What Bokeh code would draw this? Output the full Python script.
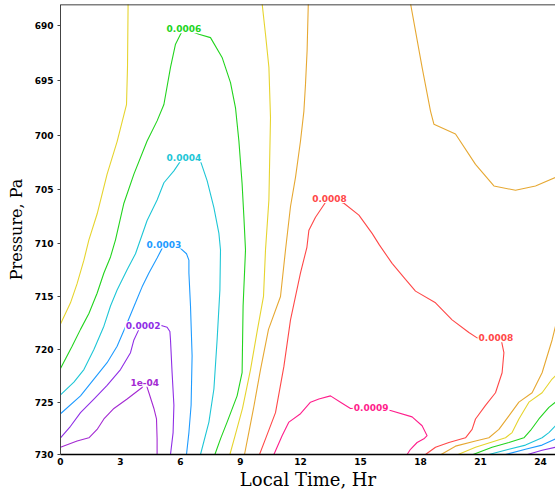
from bokeh.plotting import figure
from bokeh.models import Range1d, FixedTicker, PrintfTickFormatter, Span, ColumnDataSource
from bokeh.embed import file_html
from bokeh.resources import INLINE
from bokeh.core.properties import value

# ---------------- data (Local time [hr], Pressure [Pa]) ----------------
x_ticks = [0, 3, 6, 9, 12, 15, 18, 21, 24]
y_ticks = [690, 695, 700, 705, 710, 715, 720, 725, 730]

# level 1 (1e-04)
v1_x = [0.0, 0.83, 1.42, 1.83, 2.17, 2.67, 3.33, 4.08, 4.21, 4.3, 4.42, 4.67, 4.8, 4.83, 4.83]
v1_p = [729.3, 728.7, 728.4, 727.6, 726.6, 725.6, 724.7, 723.6, 723.1, 723.4, 724.1, 725.6, 726.6, 728.5, 730.0]

# level 2 (0.0002)
p2a_x = [0.0, 0.5, 1.0, 1.67, 2.33, 3.0, 3.5, 3.67, 3.92, 4.13, 4.6, 5.08, 5.33, 5.47, 5.5, 5.58, 5.67, 5.63, 5.5]
p2a_p = [728.4, 727.3, 726.0, 724.7, 723.4, 721.9, 720.3, 719.1, 718.1, 717.75, 717.7, 717.75, 717.9, 718.3, 719.1, 722.2, 725.3, 727.9, 730.0]
p2b_x = [23.35, 24.08, 24.75]
p2b_p = [730.0, 729.6, 729.3]

# level 3 (0.0003)
b3a_x = [0.0, 1.0, 1.67, 2.33, 2.83, 3.33, 3.75, 4.08, 4.42, 4.83, 5.08, 5.17, 5.6, 6.0, 6.3, 6.42, 6.42, 6.5, 6.58, 6.53, 6.42, 6.3]
b3a_p = [726.1, 724.4, 722.8, 721.25, 719.7, 717.5, 715.6, 714.1, 712.8, 711.4, 710.5, 710.1, 710.1, 710.5, 711.0, 711.6, 712.8, 715.9, 720.6, 725.3, 727.9, 730.0]
b3b_x = [22.25, 23.25, 24.08, 24.75]
b3b_p = [730.0, 729.5, 729.1, 728.5]

# level 4 (0.0004)
c4a_x = [0.0, 0.67, 1.17, 1.67, 2.17, 2.5, 2.83, 3.33, 3.75, 4.33, 4.83, 5.17, 5.67, 6.0, 6.17, 7.0, 7.33, 7.67, 7.92, 8.0, 7.97, 7.83, 7.67, 7.42, 7.0]
c4a_p = [724.3, 723.1, 721.9, 720.0, 717.8, 715.9, 714.4, 712.5, 711.0, 707.9, 706.0, 704.4, 703.3, 702.4, 702.1, 702.4, 704.2, 706.7, 709.1, 710.65, 714.4, 719.1, 723.75, 726.9, 730.0]
c4b_x = [21.42, 22.42, 23.25, 24.08, 24.42, 24.75]
c4b_p = [730.0, 729.5, 729.1, 728.4, 727.9, 727.25]

# level 5 (labelled 0.0006)
g5a_x = [0.0, 0.58, 1.0, 1.42, 1.83, 2.17, 2.5, 2.75, 3.17, 3.67, 4.33, 4.83, 5.17, 5.5, 5.75, 6.0, 6.17, 6.92, 7.5, 8.08, 8.5, 8.75, 8.92, 9.08, 9.17, 9.25, 9.13, 9.08, 8.83, 8.33, 8.0, 7.72]
g5a_p = [721.8, 719.7, 718.1, 716.6, 714.7, 712.8, 711.3, 709.7, 706.3, 703.6, 700.55, 698.7, 697.2, 693.8, 691.7, 690.8, 690.3, 690.8, 691.1, 692.9, 695.2, 697.5, 700.55, 704.5, 707.6, 710.65, 715.9, 722.2, 724.4, 726.9, 728.5, 730.0]
g5b_x = [20.63, 21.58, 22.42, 23.17, 23.5, 23.92, 24.42, 24.75]
g5b_p = [730.0, 729.3, 728.85, 728.4, 727.7, 726.6, 725.5, 725.0]

# level 6 (yellow)
y6a_x = [3.38, 3.35, 3.3, 2.83, 2.33, 1.83, 1.42, 1.17, 0.83, 0.5, 0.0]
y6a_p = [688.0, 693.8, 697.2, 700.6, 703.6, 707.3, 709.7, 711.6, 713.8, 715.6, 717.6]
y6b_x = [10.08, 10.25, 10.42, 10.5, 10.42, 10.25, 10.15, 9.85, 9.5, 9.1, 8.75, 8.47]
y6b_p = [688.0, 690.8, 693.8, 698.4, 706.0, 710.65, 715.0, 718.1, 721.9, 725.6, 728.05, 730.0]
y6c_x = [19.88, 20.75, 21.42, 22.25, 22.58, 22.92, 23.42, 24.08, 24.58, 24.75]
y6c_p = [730.0, 729.3, 728.9, 728.4, 727.9, 726.6, 725.0, 724.1, 722.8, 722.5]

# level 7 (orange)
o7a_x = [12.39, 12.33, 12.25, 12.17, 12.0, 11.75, 11.5, 11.25, 11.0, 10.4, 10.0, 9.65, 9.4, 9.2]
o7a_p = [688.0, 692.3, 695.35, 697.8, 700.55, 703.9, 706.6, 710.65, 715.0, 718.1, 721.9, 725.6, 728.05, 730.0]
o7b_x = [17.5, 18.08, 18.5, 18.67, 19.75, 20.75, 21.67, 22.75, 23.75, 24.75]
o7b_p = [688.0, 693.8, 697.8, 699.0, 699.9, 702.7, 704.7, 705.1, 704.7, 703.9]
o7c_x = [19.03, 19.75, 20.75, 21.42, 21.92, 22.42, 22.92, 23.58, 24.08, 24.58, 24.75]
o7c_p = [730.0, 729.2, 728.7, 728.4, 727.6, 726.3, 725.0, 724.1, 722.2, 719.1, 717.8]

# level 8 (0.0008)
r8a_x = [9.95, 10.25, 10.75, 11.17, 11.5, 12.0, 12.32, 12.42, 12.75, 13.22, 13.45, 14.17, 14.92, 15.58, 15.95, 16.58, 17.25, 17.75, 18.75, 19.58, 20.42, 20.83, 21.77, 22.05, 22.17, 22.08, 21.75, 21.25, 20.75, 20.58, 20.25, 19.42, 18.75, 18.25]
r8a_p = [730.0, 728.5, 726.0, 721.6, 717.2, 712.8, 710.4, 708.8, 707.6, 706.3, 705.85, 706.3, 707.4, 709.1, 710.2, 711.9, 713.4, 714.5, 715.6, 717.2, 718.4, 718.9, 718.9, 719.2, 720.3, 722.2, 724.1, 725.3, 726.6, 727.6, 728.4, 728.85, 729.3, 730.0]

# level 9 (0.0009)
k9a_x = [10.67, 11.08, 11.42, 12.0, 12.5, 12.92, 13.5, 14.0, 14.5, 15.53, 16.5, 17.58, 18.08, 18.33, 18.17, 17.83, 17.5, 17.33]
k9a_p = [730.0, 728.2, 726.9, 726.1, 725.0, 724.7, 724.4, 725.0, 725.6, 725.5, 725.8, 726.4, 727.25, 728.2, 728.5, 728.85, 729.5, 730.0]

# contour labels
label_text = ["0.0006", "0.0004", "0.0003", "0.0002", "1e-04", "0.0008", "0.0008", "0.0009"]
label_x = [6.17, 6.17, 5.17, 4.13, 4.21, 13.45, 21.77, 15.53]
label_p = [690.3, 702.1, 710.1, 717.75, 723.1, 705.85, 718.9, 725.5]
label_level = [5, 4, 3, 2, 1, 8, 8, 9]

x_title = "Local Time, Hr"
y_title = "Pressure, Pa"

# ---------------- styling ----------------
level_colors = {1: "#a42ad2", 2: "#8f2ee6", 3: "#1e9bff", 4: "#1ec6d6", 5: "#22d41e",
                6: "#e6d42e", 7: "#e6a832", 8: "#ff4848", 9: "#ff1e8c"}

segments = [
    (1, v1_x, v1_p), (2, p2a_x, p2a_p), (2, p2b_x, p2b_p),
    (3, b3a_x, b3a_p), (3, b3b_x, b3b_p), (4, c4a_x, c4a_p), (4, c4b_x, c4b_p),
    (5, g5a_x, g5a_p), (5, g5b_x, g5b_p),
    (6, y6a_x, y6a_p), (6, y6b_x, y6b_p), (6, y6c_x, y6c_p),
    (7, o7a_x, o7a_p), (7, o7b_x, o7b_p), (7, o7c_x, o7c_p),
    (8, r8a_x, r8a_p), (9, k9a_x, k9a_p),
]

Y_TOP = 688.1
p = figure(width=555, height=492, title=None,
           x_range=Range1d(0, 24.75), y_range=Range1d(730, Y_TOP),
           y_axis_type="log", output_backend="svg", toolbar_location=None,
           min_border_left=60, min_border_right=0, min_border_top=4, min_border_bottom=37)
p.outline_line_color = None
p.grid.visible = False
p.background_fill_color = "white"
p.border_fill_color = "white"

for lev, xs, ps in segments:
    p.line(xs, ps, line_color=level_colors[lev], line_width=1.1)

src = ColumnDataSource(dict(x=label_x, y=label_p, text=label_text,
                            color=[level_colors[l] for l in label_level]))
p.text(x="x", y="y", text="text", source=src, text_color="color",
       text_font=value("DejaVu Sans"), text_font_style="bold",
       text_font_size=value("9px"), text_align="center", text_baseline="middle",
       background_fill_color="white", padding=1)

p.add_layout(Span(location=Y_TOP, dimension="width", line_color="black", line_width=1.5))

xa = p.xaxis[0]
xa.ticker = FixedTicker(ticks=x_ticks)
xa.formatter = PrintfTickFormatter(format="%d")
xa.major_tick_out = 0
xa.major_tick_in = 0
xa.minor_tick_out = 0
xa.minor_tick_in = 0
xa.axis_line_color = "black"
xa.axis_line_width = 1.5
xa.major_label_text_font = "DejaVu Sans"
xa.major_label_text_font_style = "bold"
xa.major_label_text_font_size = "9px"
xa.major_label_text_color = "black"
xa.major_label_standoff = 3
xa.axis_label = x_title
xa.axis_label_text_font = "DejaVu Serif"
xa.axis_label_text_font_style = "normal"
xa.axis_label_text_font_size = "18px"
xa.axis_label_text_color = "black"
xa.axis_label_standoff = 1

ya = p.yaxis[0]
ya.ticker = FixedTicker(ticks=y_ticks)
ya.formatter = PrintfTickFormatter(format="%d")
ya.major_tick_out = 3
ya.major_tick_in = 0
ya.minor_tick_out = 0
ya.minor_tick_in = 0
ya.axis_line_color = "#444444"
ya.major_tick_line_color = "#444444"
ya.major_label_text_font = "DejaVu Sans"
ya.major_label_text_font_style = "bold"
ya.major_label_text_font_size = "9px"
ya.major_label_text_color = "black"
ya.major_label_standoff = 4
ya.axis_label = y_title
ya.axis_label_text_font = "DejaVu Serif"
ya.axis_label_text_font_style = "normal"
ya.axis_label_text_font_size = "16px"
ya.axis_label_text_color = "black"
ya.axis_label_standoff = 6

open("out.html", "w").write(file_html(p, INLINE))
